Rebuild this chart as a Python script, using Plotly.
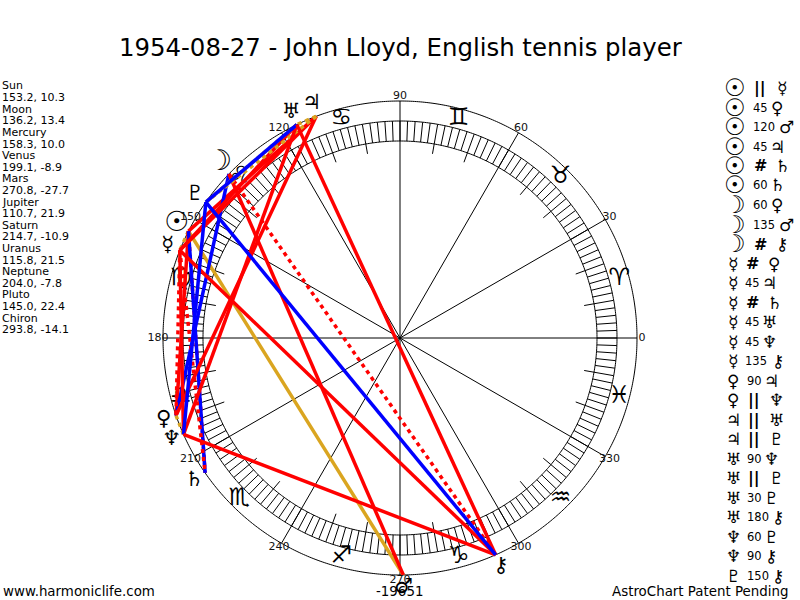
import numpy as np
import plotly.graph_objects as go

# Planet positions, longitude and declination
planets = ['Sun', 'Moon', 'Mercury', 'Venus', 'Mars', 'Jupiter', 'Saturn', 'Uranus', 'Neptune', 'Pluto', 'Chiron']
longitudes = [153.2, 136.2, 158.3, 199.1, 270.8, 110.7, 214.7, 115.8, 204.0, 145.0, 293.8]
declinations = [10.3, 13.4, 10.0, -8.9, -27.7, 21.9, -10.9, 21.5, -7.8, 22.4, -14.1]
glyphs = ['☉', '☽', '☿', '♀', '♂', '♃', '♄', '♅', '♆', '♇', '⚷']

# Aspects, same order as the list on the right of the chart
aspect_from = ['Sun', 'Sun', 'Sun', 'Sun', 'Sun', 'Sun', 'Moon', 'Moon', 'Moon',
               'Mercury', 'Mercury', 'Mercury', 'Mercury', 'Mercury', 'Mercury',
               'Venus', 'Venus', 'Jupiter', 'Jupiter', 'Uranus', 'Uranus', 'Uranus', 'Uranus',
               'Neptune', 'Neptune', 'Pluto']
aspect_kind = ['||', '45', '120', '45', '#', '60', '60', '135', '#',
               '#', '45', '#', '45', '45', '135',
               '90', '||', '||', '||', '90', '||', '30', '180',
               '60', '90', '150']
aspect_to = ['Mercury', 'Venus', 'Mars', 'Jupiter', 'Saturn', 'Saturn', 'Venus', 'Mars', 'Chiron',
             'Venus', 'Jupiter', 'Saturn', 'Uranus', 'Neptune', 'Chiron',
             'Jupiter', 'Neptune', 'Uranus', 'Pluto', 'Neptune', 'Pluto', 'Pluto', 'Chiron',
             'Pluto', 'Chiron', 'Chiron']

sign_glyphs = ['♈', '♉', '♊', '♋', '♌', '♍', '♎', '♏', '♐', '♑', '♒', '♓']
degree_labels = list(range(0, 360, 30))

title = '1954-08-27 - John Lloyd, English tennis player'
footer_left = 'www.harmoniclife.com'
footer_mid = '-19651'
footer_right = 'AstroChart Patent Pending'

FONT = 'DejaVu Sans'
R_OUT, R_BAND_OUT, R_BAND_IN, R_TICK = 237, 217, 197, 187
R_MAX = 262

styles = {
    '||': dict(color='#DAA520', width=3.5, dash='4px,4px'),
    '#': dict(color='#FF0000', width=3.5, dash='4px,4px'),
    '120': dict(color='#DAA520', width=3.5),
    '30': dict(color='#0000FF', width=3.5),
    '60': dict(color='#0000FF', width=3.5),
    '150': dict(color='#0000FF', width=3.5),
    '45': dict(color='#FF0000', width=3.5),
    '90': dict(color='#FF0000', width=3.5),
    '135': dict(color='#FF0000', width=3.5),
    '180': dict(color='#FF0000', width=3.5),
}


def segments(angles, r0, r1):
    r, theta = [], []
    for a in angles:
        r += [r0, r1, None]
        theta += [a, a, None]
    return r, theta


def planet_text(name, size):
    g = glyphs[planets.index(name)]
    if name in ('Sun', 'Moon'):
        return f'<b><span style="font-size:{size + 7}px">{g}</span></b>'
    return g


fig = go.Figure()

# Wheel: circles and spokes
circle = np.arange(0, 360.5, 0.5)
for rad in [R_OUT, R_BAND_OUT, R_BAND_IN]:
    fig.add_trace(go.Scatterpolar(r=[rad] * len(circle), theta=circle, mode='lines',
                                  line=dict(color='black', width=1)))

r, theta = segments(range(0, 360, 30), 0, R_OUT)
fig.add_trace(go.Scatterpolar(r=r, theta=theta, mode='lines', line=dict(color='black', width=1)))
r, theta = segments(range(0, 360, 2), R_BAND_IN, R_BAND_OUT)
fig.add_trace(go.Scatterpolar(r=r, theta=theta, mode='lines', line=dict(color='black', width=1)))
r, theta = segments([a for a in range(0, 360, 10) if a % 30], R_TICK, R_BAND_IN)
fig.add_trace(go.Scatterpolar(r=r, theta=theta, mode='lines', line=dict(color='black', width=1)))

# Zodiac signs
fig.add_trace(go.Scatterpolar(r=[227] * 12, theta=[15 + 30 * i for i in range(12)],
                              mode='text', text=sign_glyphs,
                              textfont=dict(family=FONT, size=24, color='black')))

# Aspect lines
for a, kind, b in zip(aspect_from, aspect_kind, aspect_to):
    fig.add_trace(go.Scatterpolar(r=[R_OUT, R_OUT],
                                  theta=[longitudes[planets.index(a)], longitudes[planets.index(b)]],
                                  mode='lines', line=styles[kind]))

# Degree labels and planet glyphs
fig.add_trace(go.Scatterpolar(r=[242] * 12, theta=degree_labels, mode='text',
                              text=[str(d) for d in degree_labels],
                              textfont=dict(family=FONT, size=11, color='#111111')))
fig.add_trace(go.Scatterpolar(r=[250] * len(longitudes), theta=longitudes, mode='text',
                              text=[planet_text(p, 21) for p in planets],
                              textfont=dict(family=FONT, size=21, color='black')))

fig.update_layout(
    width=800, height=600,
    margin=dict(l=0, r=0, t=0, b=0),
    paper_bgcolor='white',
    showlegend=False,
    polar=dict(
        domain=dict(x=[(400 - R_MAX) / 800, (400 + R_MAX) / 800],
                    y=[(600 - 338 - R_MAX) / 600, (600 - 338 + R_MAX) / 600]),
        bgcolor='white',
        radialaxis=dict(visible=False, range=[0, R_MAX]),
        angularaxis=dict(visible=False, rotation=0, direction='counterclockwise'),
    ),
)


def label(x, y, text, size=11, anchor='left'):
    fig.add_annotation(x=x / 800, y=1 - y / 600, xref='paper', yref='paper',
                       xanchor=anchor, yanchor='middle', text=text, showarrow=False,
                       borderpad=0, font=dict(family=FONT, size=size, color='black'))


label(400.5, 48, title, size=24.4, anchor='center')
label(2, 591, footer_left, size=13.4)
label(399, 591, footer_mid, size=13.4, anchor='center')
label(790, 591, footer_right, size=13.4, anchor='right')

# Positions list on the left
for i, name in enumerate(planets):
    label(1, 86 + 23.2 * i, name, size=11)
    label(1, 97.6 + 23.2 * i, f'{longitudes[i]:.1f}, {declinations[i]:.1f}', size=11)

# Aspect list on the right
first_x = {'Sun': 735, 'Moon': 735}
kind_x = {'Sun': 752, 'Moon': 752, 'Mercury': 744}
second_dx = {'||': 30, '#': 30, '30': 25, '45': 25, '60': 25, '90': 25, '120': 34, '135': 34, '150': 32, '180': 32}
for i, (a, kind, b) in enumerate(zip(aspect_from, aspect_kind, aspect_to)):
    y = 88 + 19.5 * i
    x0 = first_x.get(a, 733)
    x1 = kind_x.get(a, 746)
    label(x0, y, planet_text(a, 17), size=17, anchor='center')
    if kind in ('||', '#'):
        label(x1 + 1, y, f'<b>{kind}</b>', size=16)
    else:
        label(x1, y, kind, size=11.5)
    label(x1 + second_dx[kind], y, planet_text(b, 17), size=17, anchor='center')

# the page adds an 8px body margin otherwise, which pushes the chart off the window
fig.write_html('out.html', config=dict(displayModeBar=False),
               post_script="document.body.style.margin='0';document.body.style.overflow='hidden';")
